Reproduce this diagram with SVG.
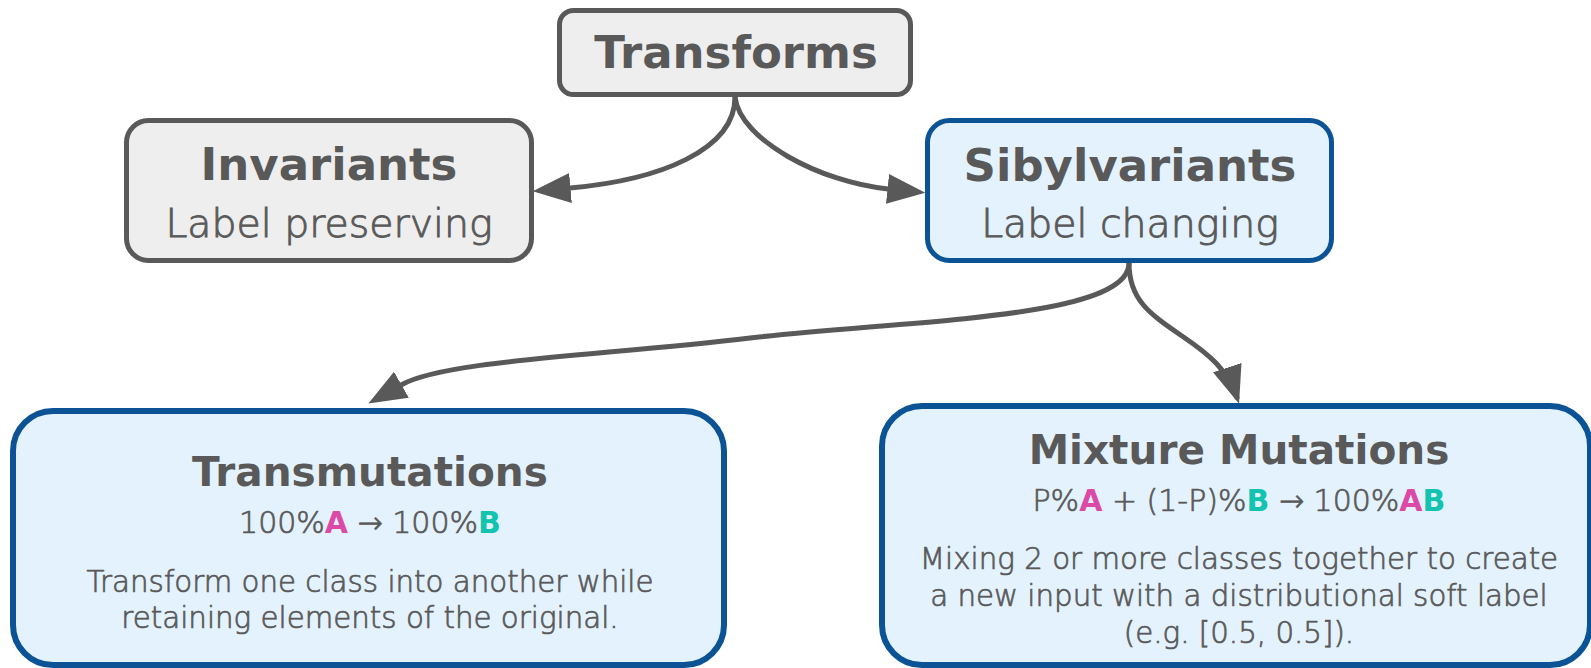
<svg xmlns="http://www.w3.org/2000/svg" width="1591" height="668" viewBox="0 0 1591 668">
<style>
.grey{fill:#eeeeee;stroke:#595959;stroke-width:5}
.blue{fill:#e3f2fd;stroke:#0b5394;stroke-width:5}
.blue2{fill:#e3f2fd;stroke:#0b5394;stroke-width:6}
text{font-family:"DejaVu Sans","Liberation Sans",sans-serif;text-anchor:middle;fill:#595959}
.t1{font-size:45px;font-weight:bold}
.t2{font-size:40.6px;font-weight:bold}
.sub{font-size:39.4px;font-weight:300;stroke:#595959;stroke-width:0.9}
.f{font-size:30px;font-weight:300;stroke:#595959;stroke-width:0.7}
.d{font-size:29.3px;font-weight:300;stroke:#595959;stroke-width:0.7}
.a{fill:#dc4aa8;stroke:none;font-weight:bold}
.b{fill:#12c4b0;stroke:none;font-weight:bold}
.conn{fill:none;stroke:#595959;stroke-width:5;marker-end:url(#arr)}
.conn2{fill:none;stroke:#595959;stroke-width:5;marker-end:url(#arrTip)}
</style>
<defs>
<marker id="arr" markerUnits="userSpaceOnUse" markerWidth="42" markerHeight="32" refX="0.5" refY="15" orient="auto">
<path d="M0,0 L38,15 L0,30 z" fill="#595959"/>
</marker>
<marker id="arrTip" markerUnits="userSpaceOnUse" markerWidth="42" markerHeight="32" refX="33" refY="15" orient="auto">
<path d="M0,0 L38,15 L0,30 z" fill="#595959"/>
</marker>
</defs>
<g id="connectors">
<path class="conn" d="M735,97 C735,150 660,180 570,188"/>
<path class="conn" d="M735,97 C740,140 820,182 888,189"/>
<path class="conn" d="M1129,263 C1129,320 900,320 750,338 S445,360 401,385"/>
<path class="conn2" d="M1129,263 C1129,300 1150,314 1182,336 C1210,355 1228,370 1237.5,399"/>
</g>
<g id="transforms">
<rect class="grey" x="559.5" y="10.5" width="351" height="84" rx="14"/>
<text class="t1" x="736" y="68">Transforms</text>
</g>
<g id="invariants">
<rect class="grey" x="126.5" y="120.5" width="405" height="140" rx="22"/>
<text class="t1" x="329" y="180">Invariants</text>
<text class="sub" x="329" y="237">Label preserving</text>
</g>
<g id="sibylvariants">
<rect class="blue" x="927.5" y="120.5" width="404" height="140" rx="22"/>
<text class="t1" x="1130" y="181">Sibylvariants</text>
<text class="sub" x="1130" y="237">Label changing</text>
</g>
<g id="transmutations">
<rect class="blue2" x="13" y="411" width="711" height="254" rx="40"/>
<text class="t2" x="370" y="486">Transmutations</text>
<text class="f" x="370" y="533">100%<tspan class="a">A</tspan> → 100%<tspan class="b">B</tspan></text>
<text class="d" x="370" y="592">Transform one class into another while</text>
<text class="d" x="370" y="628">retaining elements of the original.</text>
</g>
<g id="mixture-mutations">
<rect class="blue2" x="882" y="406" width="708" height="259" rx="40"/>
<text class="t2" x="1239" y="464">Mixture Mutations</text>
<text class="f" x="1239" y="511">P%<tspan class="a">A</tspan> + (1-P)%<tspan class="b">B</tspan> → 100%<tspan class="a">A</tspan><tspan class="b">B</tspan></text>
<text class="d" x="1239" y="569">Mixing 2 or more classes together to create</text>
<text class="d" x="1239" y="606">a new input with a distributional soft label</text>
<text class="d" x="1239" y="643">(e.g. [0.5, 0.5]).</text>
</g>
</svg>
